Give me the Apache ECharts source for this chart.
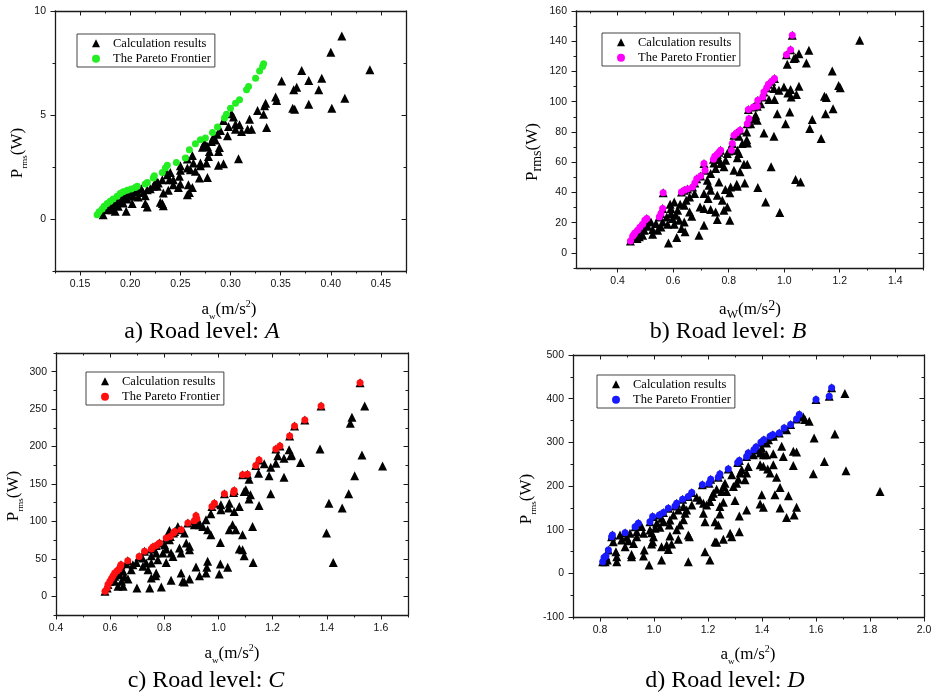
<!DOCTYPE html>
<html>
<head>
<meta charset="utf-8">
<script src="https://cdn.jsdelivr.net/npm/echarts@6/dist/echarts.min.js"></script>
<style>
  html, body { margin: 0; padding: 0; background: #fff; }
  #chart { width: 937px; height: 697px; }
</style>
</head>
<body>
<div id="chart"></div>
<script>
// ---- Road level A ----
const paretoA = [[0.167,0.21],[0.169,0.35],[0.172,0.48],[0.174,0.61],[0.177,0.74],[0.180,0.85],[0.183,0.96],[0.187,1.09],[0.190,1.22],[0.193,1.31],[0.197,1.38],[0.201,1.44],[0.205,1.52],[0.207,1.57],[0.215,1.68],[0.217,1.76],[0.223,1.97],[0.224,2.08],[0.232,2.24],[0.235,2.45],[0.237,2.58],[0.246,2.72],[0.255,2.93],[0.259,3.33],[0.265,3.62],[0.270,3.81],[0.275,3.89],[0.282,4.16],[0.287,4.42],[0.294,4.85],[0.296,5.04],[0.300,5.33],[0.305,5.57],[0.309,5.73],[0.316,6.21],[0.318,6.37],[0.325,6.77],[0.329,7.12],[0.332,7.33],[0.333,7.46]];
const calcA = [[0.411,8.80],[0.400,8.02],[0.439,7.17],[0.371,7.14],[0.391,6.77],[0.378,6.66],[0.351,6.64],[0.366,6.34],[0.363,6.21],[0.388,6.21],[0.345,5.86],[0.346,5.70],[0.414,5.81],[0.378,5.52],[0.335,5.57],[0.334,5.44],[0.362,5.33],[0.364,5.28],[0.401,5.33],[0.327,5.22],[0.333,5.04],[0.301,5.06],[0.319,4.80],[0.336,4.40],[0.305,4.56],[0.309,4.53],[0.317,4.32],[0.321,4.32],[0.305,4.32],[0.311,4.21],[0.297,4.00],[0.287,4.08],[0.290,4.26],[0.281,3.73],[0.275,3.57],[0.277,3.49],[0.289,3.44],[0.279,3.25],[0.278,3.01],[0.308,2.90],[0.257,2.88],[0.263,2.69],[0.270,2.69],[0.276,2.69],[0.288,2.58],[0.293,2.66],[0.250,2.56],[0.257,2.45],[0.265,2.29],[0.260,2.37],[0.269,1.97],[0.277,2.00],[0.250,2.34],[0.249,2.05],[0.240,2.24],[0.239,1.89],[0.237,2.13],[0.232,1.89],[0.228,1.73],[0.223,1.57],[0.227,1.57],[0.233,1.25],[0.238,1.38],[0.243,1.65],[0.250,1.68],[0.258,1.65],[0.262,1.52],[0.259,1.28],[0.257,1.17],[0.217,1.41],[0.213,1.28],[0.209,1.49],[0.215,1.12],[0.215,0.74],[0.217,0.58],[0.230,0.80],[0.233,0.64],[0.232,0.74],[0.202,0.74],[0.203,1.09],[0.197,0.96],[0.193,0.77],[0.196,0.37],[0.187,0.85],[0.185,0.37],[0.182,0.45],[0.178,0.53],[0.173,0.21],[0.188,0.61],[0.192,1.01],[0.207,1.33],[0.220,1.46],[0.201,1.17],[0.208,1.06],[0.248,1.52],[0.243,1.89],[0.270,2.56],[0.288,3.25],[0.283,3.94],[0.293,4.74],[0.274,3.65],[0.176,0.45],[0.180,0.62],[0.184,0.70],[0.190,0.90],[0.195,1.12],[0.199,1.25],[0.204,1.30],[0.211,1.45],[0.226,1.85],[0.236,2.30],[0.262,3.05],[0.272,3.45],[0.285,3.80],[0.298,4.45],[0.303,4.90]];

// ---- Road level B ----
const paretoB = [[0.446,7.9],[0.454,11.0],[0.458,12.0],[0.462,13.2],[0.472,15.0],[0.480,17.0],[0.490,19.0],[0.498,21.6],[0.505,22.7],[0.550,23.8],[0.556,26.0],[0.562,29.3],[0.564,39.7],[0.630,40.3],[0.640,41.4],[0.652,42.3],[0.670,43.6],[0.678,46.3],[0.685,49.1],[0.699,50.9],[0.711,59.1],[0.715,54.7],[0.745,62.0],[0.750,63.9],[0.759,65.2],[0.765,66.5],[0.771,67.9],[0.810,67.9],[0.813,72.3],[0.819,77.8],[0.828,79.3],[0.841,81.1],[0.867,85.5],[0.873,88.8],[0.871,94.8],[0.889,96.5],[0.903,97.0],[0.905,100.9],[0.923,103.1],[0.927,106.4],[0.937,109.3],[0.943,111.5],[0.955,113.5],[0.965,115.3],[1.008,131.1],[1.023,134.4],[1.029,143.9]];
const calcB = [[1.272,140.6],[1.089,134.0],[1.053,131.8],[1.041,129.1],[1.035,128.5],[1.080,125.6],[1.011,124.7],[1.173,120.3],[1.196,110.8],[1.202,109.3],[1.053,110.2],[0.999,109.8],[1.023,108.0],[1.013,105.8],[1.025,103.1],[1.044,104.7],[0.963,108.7],[0.981,107.5],[0.965,101.4],[0.945,101.4],[1.145,103.6],[1.152,102.7],[1.176,95.4],[1.149,92.1],[1.101,88.2],[1.020,93.2],[0.975,92.1],[1.005,85.5],[1.092,82.2],[1.133,75.6],[0.927,79.3],[0.963,77.1],[0.953,56.9],[0.867,58.6],[0.905,43.2],[0.933,33.7],[0.984,26.7],[1.041,48.5],[1.059,46.9],[0.915,98.7],[0.897,91.0],[0.891,88.8],[0.879,85.5],[0.903,87.7],[0.865,80.0],[0.865,74.9],[0.867,72.7],[0.837,77.1],[0.849,72.3],[0.831,67.9],[0.837,65.7],[0.801,67.4],[0.795,65.7],[0.831,63.0],[0.819,54.7],[0.841,53.6],[0.829,45.4],[0.807,43.6],[0.831,44.1],[0.858,46.3],[0.855,58.6],[0.804,39.7],[0.788,41.9],[0.795,30.4],[0.783,28.2],[0.804,21.6],[0.759,22.0],[0.777,34.8],[0.759,38.1],[0.735,28.7],[0.726,35.9],[0.735,41.4],[0.711,39.2],[0.711,29.3],[0.697,30.4],[0.711,18.3],[0.693,11.7],[0.667,24.2],[0.640,20.5],[0.643,13.9],[0.613,10.1],[0.583,6.6],[0.723,48.0],[0.735,52.5],[0.753,55.8],[0.771,59.1],[0.783,56.9],[0.789,61.3],[0.765,61.7],[0.747,59.5],[0.729,44.7],[0.765,46.9],[0.659,37.0],[0.677,39.2],[0.647,34.8],[0.640,31.5],[0.625,32.2],[0.604,33.7],[0.589,32.2],[0.592,29.3],[0.616,28.2],[0.610,24.9],[0.592,26.0],[0.577,23.8],[0.598,22.7],[0.604,19.0],[0.580,19.0],[0.562,20.5],[0.556,17.2],[0.538,19.4],[0.526,15.4],[0.520,20.5],[0.508,17.6],[0.496,15.0],[0.526,12.3],[0.490,11.7],[0.478,10.6],[0.470,9.5],[0.544,15.0],[0.622,21.6],[0.659,27.1],[0.630,16.1],[0.753,27.1]];

// ---- Road level C ----
const paretoC = [[0.581,6.7],[0.589,11.1],[0.592,15.6],[0.599,20.0],[0.605,23.6],[0.611,27.6],[0.617,31.1],[0.626,34.2],[0.633,36.4],[0.638,40.0],[0.640,42.2],[0.665,47.6],[0.707,53.3],[0.727,60.0],[0.752,63.1],[0.758,65.8],[0.770,68.0],[0.782,71.1],[0.807,77.8],[0.822,80.0],[0.834,84.4],[0.838,86.7],[0.862,88.9],[0.887,97.8],[0.911,100.9],[0.917,107.6],[0.920,103.6],[0.976,120.0],[0.985,124.4],[1.022,136.9],[1.058,141.3],[1.056,138.7],[1.089,162.2],[1.107,163.1],[1.138,174.7],[1.150,182.2],[1.212,196.9],[1.227,200.9],[1.263,214.2],[1.281,227.6],[1.319,235.6],[1.379,254.2],[1.523,285.3]];
const calcC = [[1.540,254.2],[1.493,239.1],[1.487,231.1],[1.375,196.9],[1.530,188.9],[1.606,174.2],[1.303,178.7],[1.267,187.6],[1.261,195.6],[1.270,188.9],[1.242,184.4],[1.219,187.6],[1.212,177.8],[1.193,172.4],[1.169,176.9],[1.148,164.4],[1.187,160.9],[1.242,159.1],[1.503,160.9],[1.113,156.4],[1.101,142.2],[1.095,140.0],[1.118,135.6],[1.193,136.9],[1.113,129.8],[1.150,121.3],[1.408,124.4],[1.481,136.9],[1.457,117.8],[1.399,84.4],[1.424,45.3],[1.040,124.4],[1.009,122.2],[1.037,117.8],[1.058,113.3],[1.077,120.0],[1.009,115.6],[0.972,110.2],[0.954,102.2],[0.942,93.3],[0.960,88.9],[0.972,82.2],[0.930,95.6],[1.052,95.6],[1.064,88.9],[1.040,88.9],[1.089,82.2],[1.126,93.3],[1.007,72.0],[1.077,63.1],[1.089,62.2],[1.095,54.2],[1.128,45.3],[1.007,43.1],[1.034,38.7],[1.003,29.8],[0.960,46.7],[0.957,38.9],[0.954,31.1],[0.930,27.6],[0.917,39.1],[0.893,23.1],[0.868,20.0],[0.862,31.1],[0.874,19.1],[0.825,21.3],[0.789,12.4],[0.746,11.1],[0.699,11.1],[0.893,66.7],[0.893,62.2],[0.856,64.4],[0.862,57.8],[0.881,71.1],[0.874,84.4],[0.819,75.6],[0.825,57.8],[0.832,53.3],[0.801,68.9],[0.807,63.1],[0.795,57.8],[0.770,57.8],[0.776,48.9],[0.807,45.3],[0.752,44.4],[0.770,31.1],[0.768,27.6],[0.752,24.4],[0.740,35.6],[0.733,44.4],[0.721,40.0],[0.719,51.1],[0.697,45.3],[0.684,42.2],[0.678,35.6],[0.660,43.6],[0.648,33.3],[0.635,28.9],[0.654,25.8],[0.666,23.1],[0.642,20.0],[0.648,13.3],[0.629,13.3],[0.617,20.0],[0.617,26.7],[0.752,54.2],[0.819,88.0],[0.850,93.3],[0.911,95.6],[0.923,102.2]];

// ---- Road level D ----
const paretoD = [[0.810,26.4],[0.815,36.4],[0.822,39.5],[0.831,53.3],[0.843,83.9],[0.846,87.7],[0.893,93.1],[0.930,106.9],[0.942,114.6],[0.985,118.4],[0.995,129.9],[1.020,133.7],[1.035,139.1],[1.053,149.0],[1.078,154.4],[1.084,160.5],[1.106,169.7],[1.127,175.9],[1.140,185.0],[1.179,202.7],[1.204,206.5],[1.210,215.7],[1.238,220.3],[1.244,227.2],[1.275,238.7],[1.310,254.0],[1.316,258.6],[1.343,267.8],[1.349,275.5],[1.370,283.1],[1.378,289.3],[1.396,300.0],[1.407,306.1],[1.430,313.8],[1.440,317.6],[1.464,321.5],[1.482,332.9],[1.506,340.6],[1.528,353.6],[1.538,363.6],[1.600,398.0],[1.649,405.7],[1.658,424.9]];
const calcD = [[1.707,411.9],[1.553,358.2],[1.575,348.3],[1.593,310.0],[1.670,319.2],[1.631,256.3],[1.711,234.9],[1.837,187.4],[1.590,228.0],[1.516,279.3],[1.528,277.8],[1.516,247.1],[1.473,290.8],[1.479,267.8],[1.442,273.9],[1.424,306.1],[1.417,298.5],[1.399,287.0],[1.393,275.5],[1.405,271.6],[1.417,271.6],[1.393,248.7],[1.405,245.0],[1.442,248.7],[1.421,238.7],[1.430,229.5],[1.454,220.3],[1.467,196.6],[1.448,179.7],[1.399,179.7],[1.393,159.0],[1.405,151.3],[1.467,149.4],[1.498,177.4],[1.491,127.6],[1.528,151.3],[1.519,133.7],[1.343,145.2],[1.316,131.4],[1.316,95.4],[1.300,166.7],[1.257,162.8],[1.244,152.9],[1.244,136.0],[1.238,110.7],[1.226,118.4],[1.226,72.4],[1.232,70.9],[1.257,77.8],[1.282,91.6],[1.288,83.9],[1.207,30.3],[1.189,49.4],[1.127,87.7],[1.131,83.9],[1.127,26.4],[1.028,30.3],[0.982,18.8],[0.961,39.5],[0.964,53.3],[0.917,43.3],[0.917,37.9],[0.998,83.9],[0.995,72.4],[0.991,67.0],[1.028,60.9],[1.047,64.6],[1.053,54.8],[1.065,67.0],[1.090,77.8],[1.059,85.4],[1.057,110.7],[1.022,105.4],[1.004,103.0],[0.991,93.1],[0.961,91.6],[0.954,107.0],[0.936,83.9],[0.924,68.6],[0.905,74.7],[0.893,60.9],[0.880,76.2],[0.862,37.9],[0.862,26.4],[0.859,49.4],[0.874,87.7],[0.849,72.4],[0.827,30.3],[0.819,26.4],[1.084,99.6],[1.096,110.7],[1.109,122.6],[1.115,137.5],[1.121,145.2],[1.140,156.7],[1.158,174.3],[1.170,168.2],[1.183,160.5],[1.195,156.7],[1.207,164.4],[1.214,176.2],[1.220,183.5],[1.232,192.7],[1.251,187.4],[1.257,198.9],[1.263,206.5],[1.269,187.4],[1.294,198.9],[1.306,206.5],[1.312,215.7],[1.319,229.5],[1.325,237.2],[1.337,214.2],[1.343,229.5],[1.349,244.8],[1.368,271.6],[1.380,283.1],[1.109,152.9],[1.090,145.2],[1.072,133.7],[1.059,122.2],[1.035,118.4],[1.028,126.0],[1.010,114.6],[0.985,99.3],[0.936,95.4],[0.911,91.6],[0.899,82.4],[1.442,313.8],[1.491,329.1],[1.559,352.1],[1.288,225.7],[1.189,118.4],[1.183,137.5]];

// ---- axis tick values ----
const xTicksA = [0.15, 0.20, 0.25, 0.30, 0.35, 0.40, 0.45];
const xMinorA = [0.125, 0.175, 0.225, 0.275, 0.325, 0.375, 0.425, 0.475];
const yTicksA = [0, 5, 10];
const yMinorA = [-2.5, 2.5, 7.5];

const xTicksB = [0.4, 0.6, 0.8, 1.0, 1.2, 1.4];
const xMinorB = [0.3, 0.5, 0.7, 0.9, 1.1, 1.3, 1.5];
const yTicksB = [0, 20, 40, 60, 80, 100, 120, 140, 160];
const yMinorB = [-10, 10, 30, 50, 70, 90, 110, 130, 150];

const xTicksC = [0.4, 0.6, 0.8, 1.0, 1.2, 1.4, 1.6];
const xMinorC = [0.5, 0.7, 0.9, 1.1, 1.3, 1.5, 1.7];
const yTicksC = [0, 50, 100, 150, 200, 250, 300];
const yMinorC = [-25, 25, 75, 125, 175, 225, 275, 325];

const xTicksD = [0.8, 1.0, 1.2, 1.4, 1.6, 1.8, 2.0];
const xMinorD = [0.7, 0.9, 1.1, 1.3, 1.5, 1.7, 1.9];
const yTicksD = [-100, 0, 100, 200, 300, 400, 500];
const yMinorD = [-50, 50, 150, 250, 350, 450];

const seriesNames = ['Calculation results', 'The Pareto Frontier'];
const captionLetters = ['A', 'B', 'C', 'D'];

// ---- panel layout ----
const panels = [
  { rect: { left: 55, top: 11, width: 351, height: 260 }, x: [0.125, 0.475], y: [-2.5, 10],
    xt: xTicksA, xm: xMinorA, yt: yTicksA, ym: yMinorA, dec: 2,
    calc: calcA, pareto: paretoA, under: false, color: '#22ee22',
    legend: { left: 77, top: 34 }, prefix: 'a' },
  { rect: { left: 576, top: 11, width: 347, height: 257 }, x: [0.25, 1.5], y: [-10, 160],
    xt: xTicksB, xm: xMinorB, yt: yTicksB, ym: yMinorB, dec: 1,
    calc: calcB, pareto: paretoB, under: true, color: '#ff00ff',
    legend: { left: 602, top: 33 }, prefix: 'b' },
  { rect: { left: 56, top: 353, width: 352, height: 262 }, x: [0.4, 1.7], y: [-25, 325],
    xt: xTicksC, xm: xMinorC, yt: yTicksC, ym: yMinorC, dec: 1,
    calc: calcC, pareto: paretoC, under: true, color: '#ff1010',
    legend: { left: 86, top: 372 }, prefix: 'c' },
  { rect: { left: 573, top: 355, width: 351, height: 262 }, x: [0.7, 2.0], y: [-100, 500],
    xt: xTicksD, xm: xMinorD, yt: yTicksD, ym: yMinorD, dec: 1,
    calc: calcD, pareto: paretoD, under: true, color: '#1a1aff',
    legend: { left: 597, top: 375 }, prefix: 'd' }
];

const AXIS_COLOR = '#1a1a1a';
const labelFont = { fontFamily: 'Liberation Sans', fontSize: 10.5, color: '#111' };

const grids = [], xAxes = [], yAxes = [], series = [], legends = [];

panels.forEach((p, i) => {
  // main grid (frame, labels, major ticks) and an overlay grid for minor ticks
  grids.push(Object.assign({ outerBoundsMode: 'none', containLabel: false }, p.rect));
  grids.push(Object.assign({ outerBoundsMode: 'none', containLabel: false }, p.rect));
  const gMain = 2 * i, gMinor = 2 * i + 1;
  const mk = (kind, grid, pos, ticks, len, inside, withLabel, showLine) => {
    const isX = kind === 'x';
    const ax = {
      type: 'value', gridIndex: grid, position: pos,
      min: isX ? p.x[0] : p.y[0], max: isX ? p.x[1] : p.y[1],
      axisLine: { show: showLine, onZero: false, lineStyle: { color: AXIS_COLOR, width: 1.3 } },
      splitLine: { show: false },
      axisTick: { show: true, inside: inside, length: len, customValues: ticks,
                  lineStyle: { color: AXIS_COLOR, width: 1 } },
      axisLabel: withLabel
        ? Object.assign({ show: true, margin: isX ? 8 : 9, customValues: ticks,
            formatter: v => isX ? Number(v).toFixed(p.dec) : String(Math.round(v)) }, labelFont)
        : { show: false }
    };
    (isX ? xAxes : yAxes).push(ax);
  };
  // x axes: 4*i bottom major, 4*i+1 top major, 4*i+2 bottom minor, 4*i+3 top minor
  mk('x', gMain, 'bottom', p.xt, 4.5, false, true, true);
  mk('x', gMain, 'top', p.xt, 4.5, true, false, true);
  mk('x', gMinor, 'bottom', p.xm, 2.5, false, false, false);
  mk('x', gMinor, 'top', p.xm, 2.5, true, false, false);
  mk('y', gMain, 'left', p.yt, 4.5, false, true, true);
  mk('y', gMain, 'right', p.yt, 4.5, true, false, true);
  mk('y', gMinor, 'left', p.ym, 2.5, false, false, false);
  mk('y', gMinor, 'right', p.ym, 2.5, true, false, false);

  const blackPts = p.under ? p.calc.concat(p.pareto) : p.calc;
  series.push({
    type: 'scatter', name: seriesNames[0], xAxisIndex: 4 * i, yAxisIndex: 4 * i,
    data: blackPts, symbol: 'triangle', symbolSize: 9,
    itemStyle: { color: '#000', opacity: 1 }, z: 2
  });
  series.push({
    type: 'scatter', name: seriesNames[1], xAxisIndex: 4 * i, yAxisIndex: 4 * i,
    data: p.pareto, symbol: 'circle', symbolSize: 7,
    itemStyle: { color: p.color, opacity: 1 }, z: 3
  });

  legends.push({
    left: p.legend.left, top: p.legend.top, orient: 'vertical',
    backgroundColor: '#fff', borderColor: '#444', borderWidth: 1,
    padding: [2, 4, 1, 15], itemGap: 1, itemWidth: 8, itemHeight: 8,
    symbolKeepAspect: true, selectedMode: false,
    textStyle: { fontFamily: 'Liberation Serif', fontSize: 12.5, color: '#000',
                 lineHeight: 14.5, padding: [0, 0, 0, 8] },
    data: [
      { name: seriesNames[0], icon: 'triangle', itemStyle: { color: '#000', opacity: 1 } },
      { name: seriesNames[1], icon: 'circle', itemStyle: { color: p.color, opacity: 1 } }
    ]
  });
});

// ---- axis titles and captions (rich text for sub/superscripts) ----
const serif = 'Liberation Serif';
function titleRich(subSize, supSize) {
  return {
    m: { fontFamily: serif, fontSize: 17, lineHeight: 22, fill: '#000' },
    s: { fontFamily: serif, fontSize: subSize, lineHeight: subSize, verticalAlign: 'bottom', fill: '#000' },
    p: { fontFamily: serif, fontSize: supSize, lineHeight: supSize + 2, verticalAlign: 'top', fill: '#000' }
  };
}
const yTitlePos = [[18, 153], [533, 152], [14, 496], [527, 499]];
const xTitlePos = [[229, 310], [750, 310], [232, 654], [748, 655]];
const captionPos = [[202, 332], [728, 332], [206, 681], [725, 681]];
const graphics = [];
panels.forEach((p, i) => {
  const big = i === 1;
  graphics.push({
    type: 'text', x: yTitlePos[i][0], y: yTitlePos[i][1], rotation: Math.PI / 2,
    style: { text: '{m|P}{s|rms}{m|(W)}', rich: titleRich(big ? 14 : 9, 10),
             align: 'center', verticalAlign: 'middle' }
  });
  graphics.push({
    type: 'text', x: xTitlePos[i][0], y: xTitlePos[i][1],
    style: { text: big ? '{m|a}{s|W}{m|(m/s}{p|2}{m|)}' : '{m|a}{s|w}{m|(m/s}{p|2}{m|)}',
             rich: titleRich(big ? 12 : 9, big ? 14 : 10),
             align: 'center', verticalAlign: 'middle' }
  });
  graphics.push({
    type: 'text', x: captionPos[i][0], y: captionPos[i][1],
    style: { text: '{t|' + p.prefix + ') Road level: }{i|' + captionLetters[i] + '}',
             rich: {
               t: { fontFamily: serif, fontSize: 24, fill: '#000' },
               i: { fontFamily: serif, fontSize: 24, fontStyle: 'italic', fill: '#000' }
             },
             align: 'center', verticalAlign: 'middle' }
  });
});

const chart = echarts.init(document.getElementById('chart'), null, { renderer: 'canvas' });
chart.setOption({
  animation: false,
  backgroundColor: '#fff',
  grid: grids,
  xAxis: xAxes,
  yAxis: yAxes,
  legend: legends,
  series: series,
  graphic: { elements: graphics }
});
</script>
</body>
</html>
